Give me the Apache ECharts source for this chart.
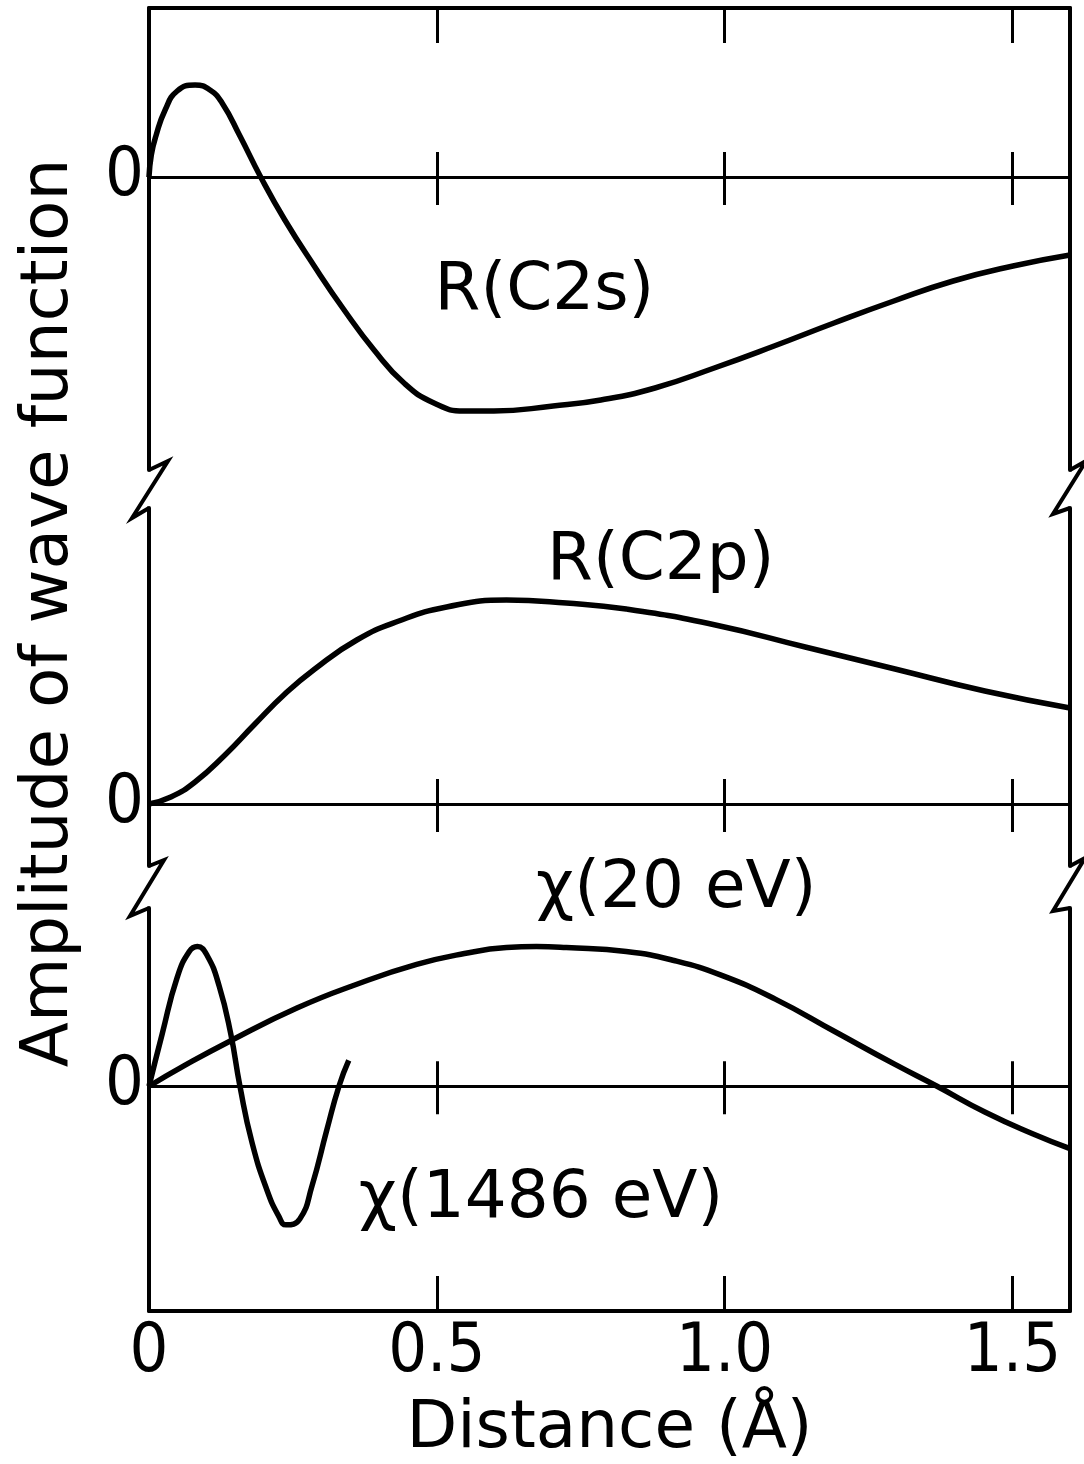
<!DOCTYPE html>
<html>
<head>
<meta charset="utf-8">
<script src="https://cdn.jsdelivr.net/npm/echarts@6/dist/echarts.min.js"></script>
<style>
  html, body { margin: 0; background: #fff; }
  #chart { width: 1084px; height: 1464px; }
</style>
</head>
<body>
<div id="chart"></div>
<script>
// distance in Å, amplitude in arbitrary units (each panel has its own zero)
const c2sX = [0, 0.004, 0.012, 0.028, 0.049, 0.080, 0.106, 0.127, 0.158, 0.194, 0.236, 0.287, 0.339, 0.391, 0.443, 0.495, 0.547, 0.599, 0.702, 0.785, 0.879, 0.982, 1.086, 1.190, 1.294, 1.397, 1.501, 1.600];
const c2sY = [0, 0.22, 0.41, 0.67, 0.86, 0.92, 0.87, 0.74, 0.41, 0.0, -0.43, -0.89, -1.33, -1.73, -2.06, -2.26, -2.34, -2.34, -2.29, -2.23, -2.11, -1.91, -1.69, -1.46, -1.24, -1.04, -0.89, -0.78];

const c2pX = [0, 0.038, 0.080, 0.132, 0.184, 0.236, 0.288, 0.361, 0.434, 0.517, 0.621, 0.725, 0.829, 0.984, 1.140, 1.296, 1.452, 1.600];
const c2pY = [0, 0.07, 0.22, 0.49, 0.80, 1.10, 1.35, 1.64, 1.83, 1.97, 2.04, 2.01, 1.95, 1.79, 1.57, 1.35, 1.13, 0.96];

const chi20X = [0, 0.059, 0.142, 0.257, 0.361, 0.465, 0.548, 0.621, 0.673, 0.725, 0.829, 0.912, 0.995, 1.088, 1.192, 1.296, 1.369, 1.452, 1.535, 1.600];
const chi20Y = [0, 0.20, 0.46, 0.79, 1.03, 1.23, 1.34, 1.40, 1.41, 1.40, 1.36, 1.27, 1.12, 0.88, 0.55, 0.22, 0, -0.26, -0.48, -0.63];

const chi1486X = [0, 0.023, 0.049, 0.070, 0.084, 0.101, 0.122, 0.142, 0.158, 0.179, 0.205, 0.226, 0.238, 0.262, 0.283, 0.309, 0.330, 0.347];
const chi1486Y = [0, 0.53, 1.10, 1.36, 1.41, 1.32, 1.01, 0.53, 0, -0.57, -1.05, -1.32, -1.40, -1.34, -1.01, -0.44, 0, 0.26];

const seriesNames = ['R(C2s)', 'R(C2p)', 'χ(20 eV)', 'χ(1486 eV)'];
const xTickValues = [0.5, 1.0, 1.5];
const xLabelValues = [0, 0.5, 1.0, 1.5];
const xTickLabels = ['0', '0.5', '1.0', '1.5'];
const yLabelValues = [0];
const yTickLabels = ['0'];
const xTitle = 'Distance (Å)';
const yTitle = 'Amplitude of wave function';

const FONT = 'DejaVu Sans';
const NUM_FONT = '"Liberation Sans Narrow", "DejaVu Sans Condensed", "DejaVu Sans"';
const FS = 66;
const BLACK = '#000';

const chart = echarts.init(document.getElementById('chart'));

function pairs(xs, ys) {
    return xs.map((x, i) => [x, ys[i]]);
}

// three stacked panels, frame broken between them
const grids = [
    { left: 149, right: 14, top: 8, height: 462 },
    { left: 149, right: 14, top: 508, height: 358 },
    { left: 149, right: 14, top: 908, height: 407 }
];
const yRanges = [[-2.93, 1.69], [-0.62, 2.96], [-2.27, 1.80]];

function xAxisBase(gridIndex) {
    return {
        type: 'value', gridIndex: gridIndex, min: 0, max: 1.6,
        splitLine: { show: false },
        axisLabel: { show: false },
        axisTick: { show: false },
        axisLine: { show: false, onZero: false }
    };
}

const xAxes = [];
// 0: top frame of top panel
xAxes.push(Object.assign(xAxisBase(0), {
    position: 'top',
    axisLine: { show: true, onZero: false, lineStyle: { color: BLACK, width: 4 } },
    axisTick: { show: true, inside: true, length: 35, customValues: xTickValues, lineStyle: { color: BLACK, width: 3 } }
}));
// zero lines with crossing ticks, two axes per panel
[0, 1, 2].forEach(g => {
    const yIdx = g * 2;
    xAxes.push(Object.assign(xAxisBase(g), {
        position: 'bottom',
        axisLine: { show: true, onZero: true, onZeroAxisIndex: yIdx, lineStyle: { color: BLACK, width: 3 } },
        axisTick: { show: true, inside: false, length: 28, customValues: xTickValues, lineStyle: { color: BLACK, width: 3 } }
    }));
    xAxes.push(Object.assign(xAxisBase(g), {
        position: 'bottom',
        axisLine: { show: true, onZero: true, onZeroAxisIndex: yIdx, lineStyle: { color: BLACK, width: 3 } },
        axisTick: { show: true, inside: true, length: 25, customValues: xTickValues, lineStyle: { color: BLACK, width: 3 } }
    }));
});
// 7: bottom frame with labels
xAxes.push(Object.assign(xAxisBase(2), {
    position: 'bottom',
    name: xTitle,
    nameLocation: 'middle',
    nameGap: 86,
    nameTextStyle: { color: BLACK, fontFamily: FONT, fontSize: FS },
    axisLine: { show: true, onZero: false, lineStyle: { color: BLACK, width: 4 } },
    axisTick: { show: true, inside: true, length: 35, customValues: xTickValues, lineStyle: { color: BLACK, width: 3 } },
    axisLabel: {
        show: true, margin: 8, color: BLACK, fontFamily: NUM_FONT, fontSize: 68,
        customValues: xLabelValues,
        formatter: v => xTickLabels[xLabelValues.indexOf(v)]
    }
}));

const yAxes = [];
[0, 1, 2].forEach(g => {
    yAxes.push({
        type: 'value', gridIndex: g, position: 'left',
        min: yRanges[g][0], max: yRanges[g][1],
        splitLine: { show: false },
        axisTick: { show: false },
        axisLine: { show: true, onZero: false, lineStyle: { color: BLACK, width: 4 } },
        axisLabel: {
            show: true, margin: 5, color: BLACK, fontFamily: NUM_FONT, fontSize: 68,
            customValues: yLabelValues,
            formatter: v => yTickLabels[yLabelValues.indexOf(v)]
        }
    });
    yAxes.push({
        type: 'value', gridIndex: g, position: 'right',
        min: yRanges[g][0], max: yRanges[g][1],
        splitLine: { show: false },
        axisTick: { show: false },
        axisLabel: { show: false },
        axisLine: { show: true, onZero: false, lineStyle: { color: BLACK, width: 4 } }
    });
});

function curve(name, xs, ys, xAxisIndex, yAxisIndex, labelCoord, labelOffset) {
    return {
        type: 'line', name: name,
        xAxisIndex: xAxisIndex, yAxisIndex: yAxisIndex,
        data: pairs(xs, ys),
        smooth: 0.5, symbol: 'none', silent: true,
        lineStyle: { color: BLACK, width: 5.5 },
        markPoint: {
            symbol: 'rect', symbolSize: 1,
            itemStyle: { color: 'transparent' },
            label: {
                show: true, position: 'inside', formatter: '{b}',
                offset: labelOffset || [0, 0],
                color: BLACK, fontFamily: FONT, fontSize: FS
            },
            data: [{ name: name, coord: labelCoord }]
        }
    };
}

const series = [
    curve(seriesNames[0], c2sX, c2sY, 1, 0, [0.687, -1.15]),
    curve(seriesNames[1], c2pX, c2pY, 3, 2, [0.889, 2.42]),
    curve(seriesNames[2], chi20X, chi20Y, 5, 4, [0.916, 1.70], [0, -28]),
    curve(seriesNames[3], chi1486X, chi1486Y, 5, 4, [0.681, -1.15])
];

// break marks on the frame
function zigzag(points) {
    return {
        type: 'polyline', silent: true,
        shape: { points: points },
        style: { stroke: BLACK, lineWidth: 4, fill: null, lineJoin: 'miter' }
    };
}

chart.setOption({
    animation: false,
    backgroundColor: '#fff',
    grid: grids,
    xAxis: xAxes,
    yAxis: yAxes,
    series: series,
    graphic: [
        zigzag([[149, 470], [168, 461], [132, 518], [149, 508]]),
        zigzag([[1070, 470], [1086, 461], [1053, 514], [1070, 508]]),
        zigzag([[149, 866], [164, 860], [130, 916], [149, 908]]),
        zigzag([[1070, 866], [1085, 858], [1053, 911], [1070, 908]]),
        {
            type: 'text', silent: true,
            x: 50, y: 613, rotation: Math.PI / 2,
            style: {
                text: yTitle, fill: BLACK, fontFamily: FONT, fontSize: FS,
                align: 'center', verticalAlign: 'middle'
            }
        }
    ]
});
</script>
</body>
</html>
